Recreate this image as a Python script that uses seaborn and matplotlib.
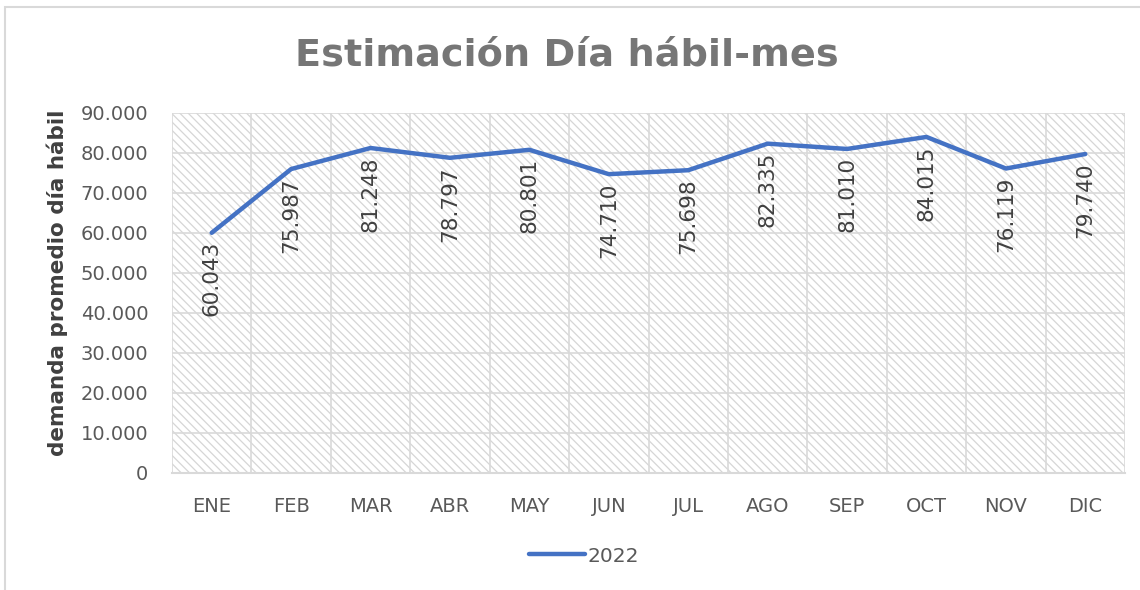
import numpy as np
import pandas as pd
import seaborn as sns
import matplotlib.pyplot as plt
from matplotlib.patches import Rectangle
from matplotlib.lines import Line2D
from matplotlib.ticker import FuncFormatter, FixedLocator

months = ["ENE", "FEB", "MAR", "ABR", "MAY", "JUN", "JUL", "AGO", "SEP", "OCT", "NOV", "DIC"]
demanda_2022 = [60043, 75987, 81248, 78797, 80801, 74710, 75698, 82335, 81010, 84015, 76119, 79740]
series_name = "2022"

sns.set_theme(style="white")
plt.rcParams["font.family"] = ["DejaVu Sans"]
plt.rcParams["hatch.linewidth"] = 0.9
plt.rcParams["hatch.color"] = "#d6d6d6"

TXT = "#595959"
GRID = "#d9d9d9"
BLUE = "#4472C4"

df = pd.DataFrame({"pos": np.arange(len(months)), "mes": months, "valor": demanda_2022})

fig = plt.figure(figsize=(11.4, 5.9), dpi=100)
W, H = 1140, 590
ax = fig.add_axes([172 / W, 1 - 473 / H, (1125 - 172) / W, (473 - 113) / H])

# hatched plot background
ax.add_patch(Rectangle((0, 0), 1, 1, transform=ax.transAxes, facecolor="white",
                       edgecolor="#d6d6d6", hatch="\\" * 4, linewidth=0, zorder=0))

sns.lineplot(data=df, x="pos", y="valor", ax=ax, color=BLUE, linewidth=3.2,
             legend=False, zorder=3, solid_capstyle="round")

ax.set_xlim(-0.5, len(months) - 0.5)
ax.set_ylim(0, 90000)
ax.set_yticks(np.arange(0, 90001, 10000))
ax.yaxis.set_major_formatter(FuncFormatter(lambda v, p: f"{int(v):,}".replace(",", ".")))
ax.set_xticks(df["pos"])
ax.set_xticklabels(months)
ax.xaxis.set_minor_locator(FixedLocator(np.arange(-0.5, len(months), 1.0)))

ax.grid(True, axis="y", which="major", color=GRID, linewidth=1.2, zorder=1)
ax.grid(True, axis="x", which="minor", color=GRID, linewidth=1.2, zorder=1)
ax.grid(False, axis="x", which="major")
ax.set_axisbelow(True)

for s in ["left", "right", "top"]:
    ax.spines[s].set_visible(False)
ax.spines["bottom"].set_color(GRID)
ax.spines["bottom"].set_linewidth(1.5)

ax.tick_params(axis="y", length=0, pad=17, labelsize=14, labelcolor=TXT)
ax.tick_params(axis="x", which="both", length=0, pad=17, labelsize=14, labelcolor=TXT)
ax.set_xlabel("")
ax.set_ylabel("")

# data labels, rotated, hanging below each point
for x, v in zip(df["pos"], df["valor"]):
    ax.annotate(f"{v:,}".replace(",", "."), (x, v), xytext=(0, -6), textcoords="offset points",
                rotation=90, ha="center", va="top", fontsize=15.5, color="#404040", zorder=4)

fig.text(567 / W, 1 - 56 / H, "Estimación Día hábil-mes", ha="center", va="center",
         fontsize=27.5, fontweight="bold", color="#767676")
fig.text(57 / W, 1 - 283 / H, "demanda promedio día hábil", ha="center", va="center",
         rotation=90, fontsize=15.5, fontweight="bold", color="#404040")

handle = Line2D([], [], color=BLUE, linewidth=3.2, solid_capstyle="round")
fig.legend([handle], [series_name], loc="center", bbox_to_anchor=(584 / W, 1 - 556 / H),
           frameon=False, fontsize=14.5, labelcolor=TXT, handlelength=2.8, handletextpad=0.1)

# outer chart border
fig.patches.append(Rectangle((5 / W, -0.1), 1.2, 1 - 7 / H + 0.1, transform=fig.transFigure,
                             fill=False, edgecolor=GRID, linewidth=1.5))

fig.savefig("out.png", dpi=100)
